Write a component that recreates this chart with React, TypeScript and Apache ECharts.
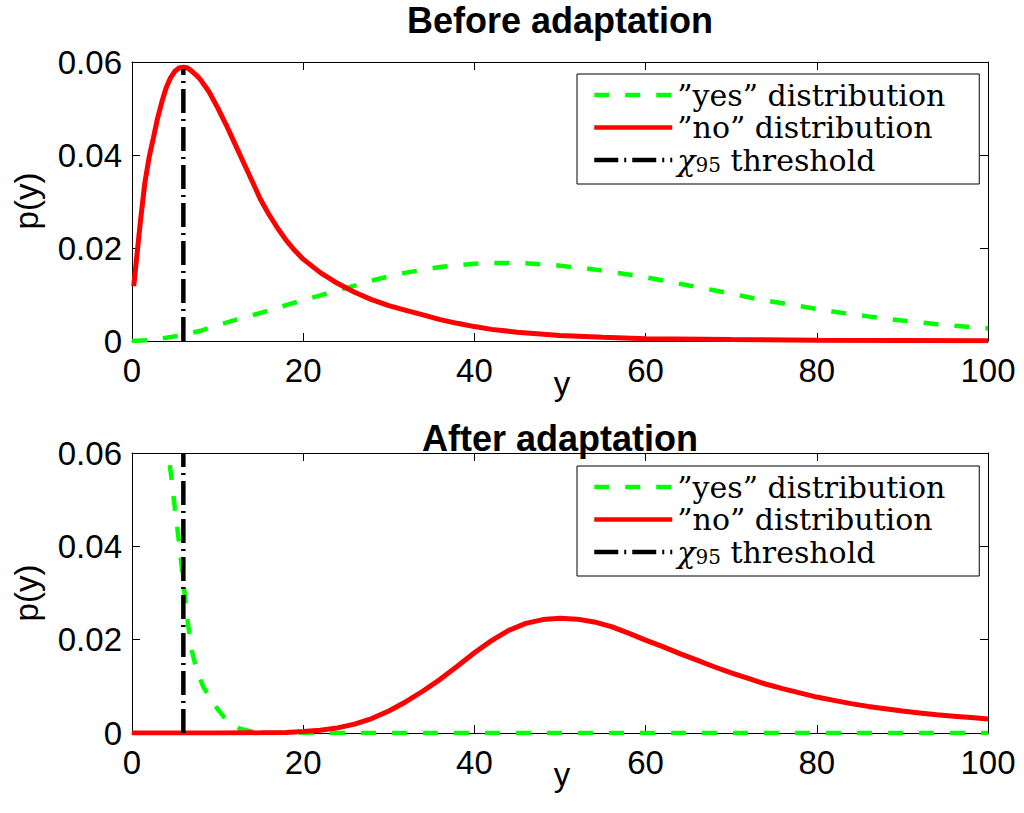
import React, { useEffect, useRef } from 'react';
import * as echarts from 'echarts';

// series names, as in the legend
const YES = '\u201Dyes\u201D distribution';
const NO = '\u201Dno\u201D distribution';
const THR = '\u03C795 threshold';

const xTicks = [0, 20, 40, 60, 80, 100];
const yTicks = [0, 0.02, 0.04, 0.06];

// "Before adaptation"
const beforeYesX = [0, 2, 4, 6, 8, 10, 12, 14, 16, 18, 20, 22, 24, 26, 28, 30, 32, 34, 36, 38, 40, 42, 44, 46, 48, 50, 52, 54, 56, 58, 60, 62, 64, 66, 68, 70, 72, 74, 76, 78, 80, 82, 84, 86, 88, 90, 92, 94, 96, 98, 100];
const beforeYesY = [0, 0.0002, 0.0007, 0.0013, 0.0022, 0.0034, 0.0045, 0.0055, 0.0066, 0.0077, 0.0088, 0.0098, 0.0109, 0.0119, 0.013, 0.0139, 0.0147, 0.0153, 0.0159, 0.0163, 0.0166, 0.0168, 0.0168, 0.0167, 0.0165, 0.0162, 0.0158, 0.0154, 0.0148, 0.0143, 0.0137, 0.013, 0.0123, 0.0116, 0.0109, 0.0102, 0.0094, 0.0087, 0.0081, 0.0075, 0.0069, 0.0063, 0.0058, 0.0053, 0.0048, 0.0044, 0.004, 0.0036, 0.0033, 0.003, 0.0027];
const beforeNoX = [0.2, 1, 1.5, 2, 2.5, 3, 3.5, 4, 4.5, 5, 5.5, 6, 6.5, 7, 7.5, 8, 9, 10, 11, 12, 13, 14, 15, 16, 17, 18, 19, 20, 22, 24, 26, 28, 30, 32, 34, 36, 38, 40, 42, 45, 50, 55, 60, 70, 80, 90, 100];
const beforeNoY = [0.0118, 0.026, 0.034, 0.0395, 0.0437, 0.048, 0.0515, 0.0545, 0.0566, 0.058, 0.0587, 0.0589, 0.0587, 0.058, 0.0572, 0.0562, 0.0536, 0.0502, 0.0465, 0.0425, 0.0385, 0.0345, 0.0305, 0.0272, 0.0243, 0.0217, 0.0195, 0.0176, 0.0147, 0.0124, 0.0105, 0.0089, 0.0076, 0.0066, 0.0056, 0.0046, 0.0038, 0.0031, 0.0025, 0.0019, 0.0012, 0.0008, 0.0005, 0.0003, 0.00015, 0.0001, 0.00005];

// "After adaptation"
const afterYesX = [4, 4.24, 4.63, 5.02, 5.41, 5.8, 6.19, 6.58, 6.97, 7.55, 8.33, 9.5, 11.05, 12.6, 14.15, 16, 20, 40, 60, 80, 100];
const afterYesY = [0.064, 0.06, 0.0543, 0.0479, 0.0422, 0.0357, 0.0292, 0.0228, 0.0178, 0.0135, 0.0099, 0.0063, 0.0027, 0.0009, 0.0002, 0.00005, 0, 0, 0, 0, 0];
const afterNoX = [0, 10, 15, 18, 20, 22, 24, 26, 28, 30, 32, 34, 36, 38, 40, 42, 44, 46, 48, 50, 52, 54, 56, 58, 60, 62, 64, 66, 68, 70, 72, 74, 76, 78, 80, 82, 84, 86, 88, 90, 92, 94, 96, 98, 100];
const afterNoY = [0, 0, 0.00003, 0.0001, 0.0003, 0.0006, 0.0011, 0.0019, 0.0031, 0.0047, 0.0067, 0.009, 0.0115, 0.0143, 0.0172, 0.0198, 0.022, 0.0235, 0.0243, 0.0246, 0.0244, 0.0238, 0.0228, 0.0214, 0.0199, 0.0185, 0.017, 0.0156, 0.0142, 0.0129, 0.0117, 0.0105, 0.0095, 0.0086, 0.0077, 0.007, 0.0063, 0.0057, 0.0052, 0.0047, 0.0043, 0.0039, 0.0036, 0.0033, 0.003];

const thresholdX = 6;
const beforeThresholdY = [0, 0.0585];
const afterThresholdY = [0, 0.06];

const SANS = "'Liberation Sans', Arial, Helvetica, sans-serif";
const SERIF = "'DejaVu Serif', 'Liberation Serif', serif";

const pairs = (xs: number[], ys: number[]) => xs.map((x, i) => [x, ys[i]]);

const App: React.FC = () => {
  const chartRef = useRef<HTMLDivElement>(null);

  useEffect(() => {
    if (!chartRef.current) return;
    const chart = echarts.init(chartRef.current, null, { renderer: 'svg' });

    const grids = [
      { left: 132, top: 62, width: 856, height: 279 },
      { left: 132, top: 453, width: 856, height: 280 },
    ];

    const axisLine = { show: true, onZero: false, lineStyle: { color: '#000', width: 1 } };
    const tick = { show: true, inside: true, length: 8, lineStyle: { color: '#000', width: 1 } };

    const xAxis: any[] = [];
    const yAxis: any[] = [];
    grids.forEach((_, g) => {
      xAxis.push({
        type: 'value', gridIndex: g, position: 'bottom', min: xTicks[0], max: xTicks[xTicks.length - 1], interval: 20,
        axisLine, axisTick: tick, splitLine: { show: false },
        axisLabel: { margin: 13, color: '#000', fontSize: 33, fontFamily: SANS },
      });
      xAxis.push({
        type: 'value', gridIndex: g, position: 'top', min: 0, max: 100, interval: 20,
        axisLine, axisTick: tick, splitLine: { show: false }, axisLabel: { show: false },
      });
      yAxis.push({
        type: 'value', gridIndex: g, position: 'left', min: yTicks[0], max: yTicks[yTicks.length - 1], interval: 0.02,
        axisLine, axisTick: tick, splitLine: { show: false },
        axisLabel: {
          margin: 10, color: '#000', fontSize: 33, fontFamily: SANS,
          formatter: (v: number) => (v === 0 ? '0' : v.toFixed(2)),
        },
      });
      yAxis.push({
        type: 'value', gridIndex: g, position: 'right', min: 0, max: 0.06, interval: 0.02,
        axisLine, axisTick: tick, splitLine: { show: false }, axisLabel: { show: false },
      });
    });

    const line = (name: string, data: number[][], g: number, color: string, width: number, type: any, z: number) => ({
      name,
      type: 'line',
      xAxisIndex: g * 2,
      yAxisIndex: g * 2,
      data,
      symbol: 'none',
      showSymbol: false,
      clip: true,
      z,
      lineStyle: { color, width, type, cap: 'butt' },
      itemStyle: { color },
    });

    const dashed = [15, 16];
    const dashDot = [24, 6, 2, 6];

    const series = [
      line(YES, pairs(beforeYesX, beforeYesY), 0, '#00ff00', 4.5, dashed, 2),
      line(NO, pairs(beforeNoX, beforeNoY), 0, '#ff0000', 5, 'solid', 3),
      line(THR, beforeThresholdY.map((y) => [thresholdX, y]), 0, '#000000', 4.5, dashDot, 4),
      line(YES, pairs(afterYesX, afterYesY), 1, '#00ff00', 4.5, dashed, 2),
      line(NO, pairs(afterNoX, afterNoY), 1, '#ff0000', 5, 'solid', 3),
      line(THR, afterThresholdY.map((y) => [thresholdX, y]), 1, '#000000', 4.5, dashDot, 4),
    ];

    const legend = (top: number) => ({
      data: [YES, NO, THR],
      orient: 'vertical',
      left: 577,
      top,
      align: 'left',
      selectedMode: false,
      backgroundColor: '#fff',
      borderColor: '#000',
      borderWidth: 1,
      padding: [6, 8, 9, 15],
      itemGap: 2.5,
      itemWidth: 78,
      itemHeight: 14,
      itemStyle: { opacity: 0, borderWidth: 0 },
      lineStyle: { width: 4.5, opacity: 1 },
      formatter: (name: string) => (name === THR ? '{chi|\u03C7}{sub|95}{txt| threshold}' : name),
      textStyle: {
        color: '#000', fontSize: 30, fontFamily: SERIF, lineHeight: 30, width: 294,
        rich: {
          chi: { fontSize: 30, fontFamily: SERIF, fontStyle: 'italic', color: '#000', lineHeight: 30 },
          sub: { fontSize: 20, fontFamily: SERIF, color: '#000', lineHeight: 14, verticalAlign: 'bottom' },
          txt: { fontSize: 30, fontFamily: SERIF, color: '#000', lineHeight: 30 },
        },
      },
    });

    const label = (text: string, x: number, y: number, rotation = 0) => ({
      type: 'text', x, y, rotation, silent: true,
      style: { text, fill: '#000', font: `33px ${SANS}`, align: 'center', verticalAlign: 'middle' },
    });

    chart.setOption({
      animation: false,
      backgroundColor: '#fff',
      title: [
        { text: 'Before adaptation', left: 560, top: 2, textAlign: 'center', padding: 0,
          textStyle: { fontSize: 36, fontWeight: 'bold', fontFamily: SANS, color: '#000', lineHeight: 36 } },
        { text: 'After adaptation', left: 560, top: 420, textAlign: 'center', padding: 0,
          textStyle: { fontSize: 36, fontWeight: 'bold', fontFamily: SANS, color: '#000', lineHeight: 36 } },
      ],
      grid: grids.map((g) => ({ ...g, containLabel: false })),
      xAxis,
      yAxis,
      legend: [legend(74), legend(466)],
      series,
      graphic: [
        label('p(y)', 26, 201, Math.PI / 2),
        label('p(y)', 26, 593, Math.PI / 2),
        label('y', 562, 383),
        label('y', 562, 774),
      ],
    });

    return () => {
      chart.dispose();
    };
  }, []);

  return <div ref={chartRef} style={{ position: 'absolute', left: 0, top: 0, width: 1024, height: 813 }} />;
};

export default App;
